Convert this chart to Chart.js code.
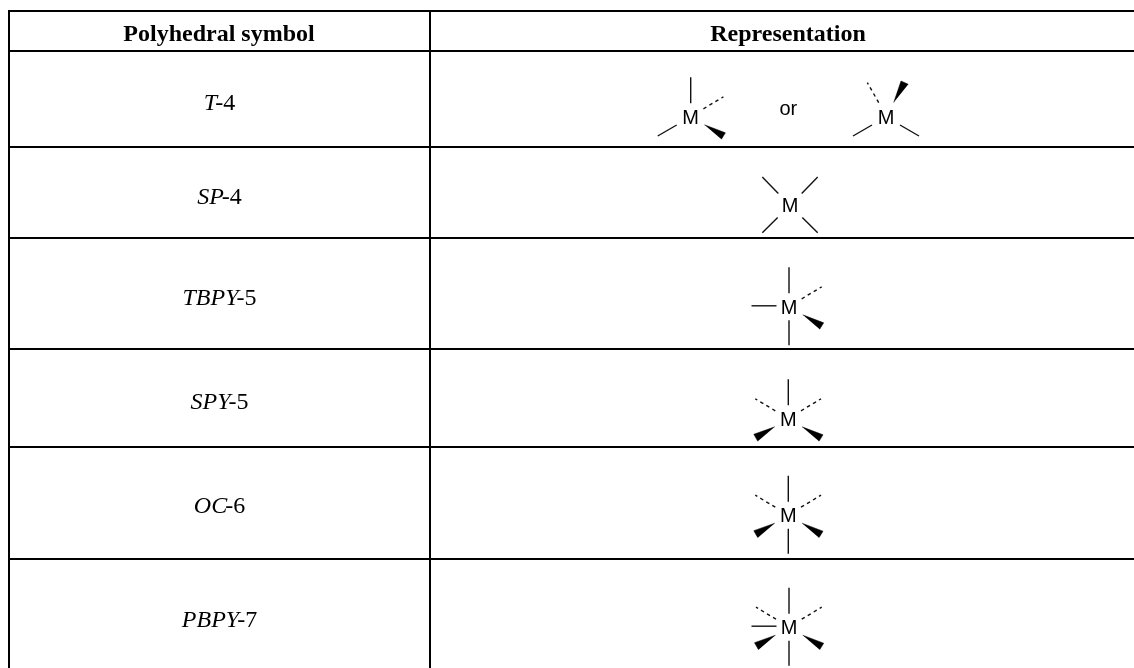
<!DOCTYPE html>
<html>
<head>
<meta charset="utf-8">
<style>
html, body { margin: 0; padding: 0; background: #fff; }
#wrap { width: 1134px; height: 668px; }
</style>
</head>
<body>
<div id="wrap"><canvas id="polyhedra" width="1134" height="668"></canvas></div>
<script src="https://cdn.jsdelivr.net/npm/chart.js@4/dist/chart.umd.js"></script>
<script>
// table text
const headers = ['Polyhedral symbol', 'Representation'];
const symbolItalic = ['T', 'SP', 'TBPY', 'SPY', 'OC', 'PBPY'];
const symbolNumber = ['-4', '-4', '-5', '-5', '-6', '-7'];
const symbolBaseline = [110, 203.5, 305, 409, 513, 627];

// table rules
const ruleRows = [11, 51, 147, 238, 349, 447, 559];
const ruleCols = [9, 430];

// where each M sits: x, y, and the bonds that belong to it
const centerX = [690.7, 886, 790, 789, 788.3, 788.3, 789];
const centerY = [117.3, 117.3, 205.7, 307.3, 419.3, 515.7, 627.7];
const orLabel = [788.3, 109];

// bond shapes, offsets from the M
const up = [0, -40, 0, -14];
const down = [0, 13, 0, 38];
const left = [-12.5, -1.5, -37.5, -1.5];
const lowLeft = [-14, 7.7, -33, 18.7];
const lowRight = [14, 7.7, 33, 18.7];
const dashRight = [12.7, -8.5, 32.7, -20.5];
const dashLeft = [-13, -8.5, -33, -20.5];
const dashUpLeft = [-7.3, -14.7, -18.7, -34.7];
const spUpLeft = [-11.7, -12.3, -27.7, -28.7];
const spUpRight = [11.7, -12.3, 27.7, -28.7];
const spDownLeft = [-12.3, 11.7, -27.7, 27];
const spDownRight = [12.3, 11.7, 27.7, 27];
const wedgeRight = [13.7, 7.5, 34.7, 15.5, 30.7, 22];
const wedgeLeft = [-13.5, 7.5, -34.5, 15, -30.5, 22];
const wedgeUpRight = [7.7, -14.7, 15, -36.3, 22.3, -33];

const solidBonds = [
    [up, lowLeft],
    [lowLeft, lowRight],
    [spUpLeft, spUpRight, spDownLeft, spDownRight],
    [up, down, left],
    [up],
    [up, down],
    [up, down, left]
];
const dashedBonds = [
    [dashRight],
    [dashUpLeft],
    [],
    [dashRight],
    [dashLeft, dashRight],
    [dashLeft, dashRight],
    [dashLeft, dashRight]
];
const wedgeBonds = [
    [wedgeRight],
    [wedgeUpRight],
    [],
    [wedgeRight],
    [wedgeLeft, wedgeRight],
    [wedgeLeft, wedgeRight],
    [wedgeLeft, wedgeRight]
];

const datasets = [];

function addRule(x0, y0, x1, y1) {
    datasets.push({
        data: [{ x: x0, y: y0 }, { x: x1, y: y1 }],
        showLine: true,
        borderColor: '#000',
        borderWidth: 2,
        pointRadius: 0
    });
}

ruleRows.forEach(function (y) { addRule(ruleCols[0] - 1, y, 1134, y); });
ruleCols.forEach(function (x) { addRule(x, ruleRows[0], x, 668); });

function addBond(cx, cy, b, dash) {
    datasets.push({
        data: [{ x: cx + b[0], y: cy + b[1] }, { x: cx + b[2], y: cy + b[3] }],
        showLine: true,
        borderColor: '#111',
        borderWidth: 1.4,
        borderDash: dash,
        pointRadius: 0
    });
}

function addWedge(cx, cy, w) {
    datasets.push({
        data: [
            { x: cx + w[0], y: cy + w[1] },
            { x: cx + w[2], y: cy + w[3] },
            { x: cx + w[4], y: cy + w[5] }
        ],
        showLine: true,
        fill: 'shape',
        backgroundColor: '#000',
        borderColor: '#000',
        borderWidth: 0.5,
        pointRadius: 0
    });
}

centerX.forEach(function (cx, i) {
    const cy = centerY[i];
    solidBonds[i].forEach(function (b) { addBond(cx, cy, b, []); });
    dashedBonds[i].forEach(function (b) { addBond(cx, cy, b, [3.5, 3.5]); });
    wedgeBonds[i].forEach(function (w) { addWedge(cx, cy, w); });
});

const tableText = {
    id: 'tableText',
    afterDatasetsDraw(chart) {
        const ctx = chart.ctx;
        const xs = chart.scales.x;
        const ys = chart.scales.y;
        ctx.save();
        ctx.fillStyle = '#000';
        ctx.textBaseline = 'alphabetic';
        ctx.textAlign = 'center';

        ctx.font = 'bold 24px "Liberation Serif"';
        ctx.fillText(headers[0], xs.getPixelForValue(219), ys.getPixelForValue(41));
        ctx.fillText(headers[1], xs.getPixelForValue(788), ys.getPixelForValue(41));

        // symbols are italic letters followed by an upright number, set tight
        ctx.textAlign = 'left';
        symbolItalic.forEach(function (name, i) {
            const italicFont = 'italic 24px "Liberation Serif"';
            const plainFont = '24px "Liberation Serif"';
            ctx.font = italicFont;
            const w1 = ctx.measureText(name).width - 2;
            ctx.font = plainFont;
            const w2 = ctx.measureText(symbolNumber[i]).width;
            const x = xs.getPixelForValue(219.5) - (w1 + w2) / 2;
            const y = ys.getPixelForValue(symbolBaseline[i]);
            ctx.font = italicFont;
            ctx.fillText(name, x, y);
            ctx.font = plainFont;
            ctx.fillText(symbolNumber[i], x + w1, y);
        });

        ctx.textAlign = 'center';
        ctx.textBaseline = 'middle';
        ctx.font = '20px "Liberation Sans"';
        centerX.forEach(function (cx, i) {
            ctx.fillText('M', xs.getPixelForValue(cx), ys.getPixelForValue(centerY[i]) + 1);
        });
        ctx.fillText('or', xs.getPixelForValue(orLabel[0]), ys.getPixelForValue(orLabel[1]));
        ctx.restore();
    }
};

new Chart(document.getElementById('polyhedra'), {
    type: 'scatter',
    data: { datasets: datasets },
    options: {
        responsive: false,
        animation: false,
        layout: { padding: 0 },
        plugins: {
            legend: { display: false },
            tooltip: { enabled: false }
        },
        scales: {
            x: { type: 'linear', min: 0, max: 1134, display: false },
            y: { type: 'linear', min: 0, max: 668, reverse: true, display: false }
        }
    },
    plugins: [tableText]
});
</script>
</body>
</html>
